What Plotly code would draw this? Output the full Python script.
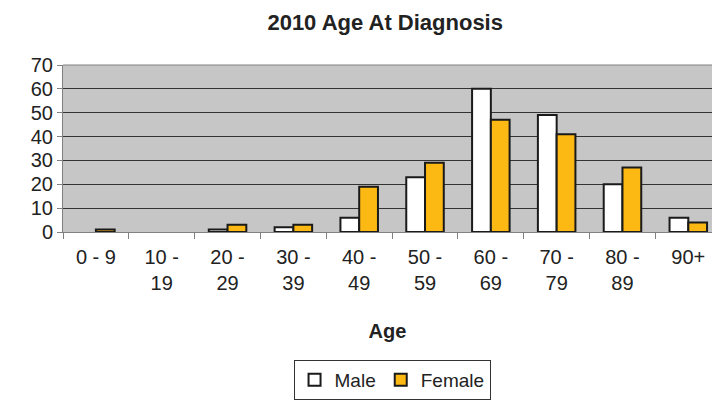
import plotly.graph_objects as go

categories = ["0 - 9", "10 - 19", "20 - 29", "30 - 39", "40 - 49", "50 - 59",
              "60 - 69", "70 - 79", "80 - 89", "90+"]
tick_labels = ["0 - 9", "10 -<br>19", "20 -<br>29", "30 -<br>39", "40 -<br>49",
               "50 -<br>59", "60 -<br>69", "70 -<br>79", "80 -<br>89", "90+"]
male = [0, 0, 1, 2, 6, 23, 60, 49, 20, 6]
female = [1, 0, 3, 3, 19, 29, 47, 41, 27, 4]

FONT = "Liberation Sans, Arial, sans-serif"


def drawn(vals):
    # Excel draws nothing for zero-height bars
    return [v if v != 0 else None for v in vals]


fig = go.Figure()
fig.add_trace(go.Bar(x=categories, y=drawn(male), name="Male",
                     marker=dict(color="white", line=dict(color="#1a1a1a", width=2))))
fig.add_trace(go.Bar(x=categories, y=drawn(female), name="Female",
                     marker=dict(color="#FDB913", line=dict(color="#1a1a1a", width=2))))

fig.update_layout(
    width=712, height=400,
    margin=dict(l=63, r=0, t=65, b=167),
    paper_bgcolor="white", plot_bgcolor="#C6C6C6",
    barmode="group", bargap=0.43, bargroupgap=0,
    font=dict(family=FONT, size=20, color="#222222"),
    title=dict(text="<b>2010 Age At Diagnosis</b>", x=0.541, xanchor="center",
               y=0.945, yanchor="middle", font=dict(size=22, color="#222222")),
    showlegend=True,
    legend=dict(orientation="h", x=0.507, xanchor="center", y=-0.762, yanchor="top",
                bordercolor="#333333", borderwidth=1, font=dict(size=19),
                itemwidth=30, traceorder="normal"),
    xaxis=dict(tickmode="array", tickvals=categories, ticktext=tick_labels,
               range=[-0.5, 9.36], showgrid=False, automargin=False,
               showline=True, linecolor="#808080", linewidth=1,
               ticks="outside", ticklen=6, tickcolor="#808080",
               ticklabelstandoff=7,
               tickson="boundaries", tickfont=dict(size=20),
               title=dict(text="<b>Age</b>", font=dict(size=20), standoff=30)),
    yaxis=dict(range=[0, 70], dtick=10, showgrid=True, gridcolor="#333333", gridwidth=1,
               showline=True, linecolor="#808080", linewidth=1, automargin=False,
               ticks="outside", ticklen=5, tickcolor="#808080",
               tickfont=dict(size=20), zeroline=False),
)
fig.add_shape(type="line", xref="paper", yref="paper", x0=0, x1=1, y0=1, y1=1,
              line=dict(color="#808080", width=1))

fig.write_html("out.html", config={"displayModeBar": False},
               post_script="document.body.style.margin='0';document.body.style.overflow='hidden';")
